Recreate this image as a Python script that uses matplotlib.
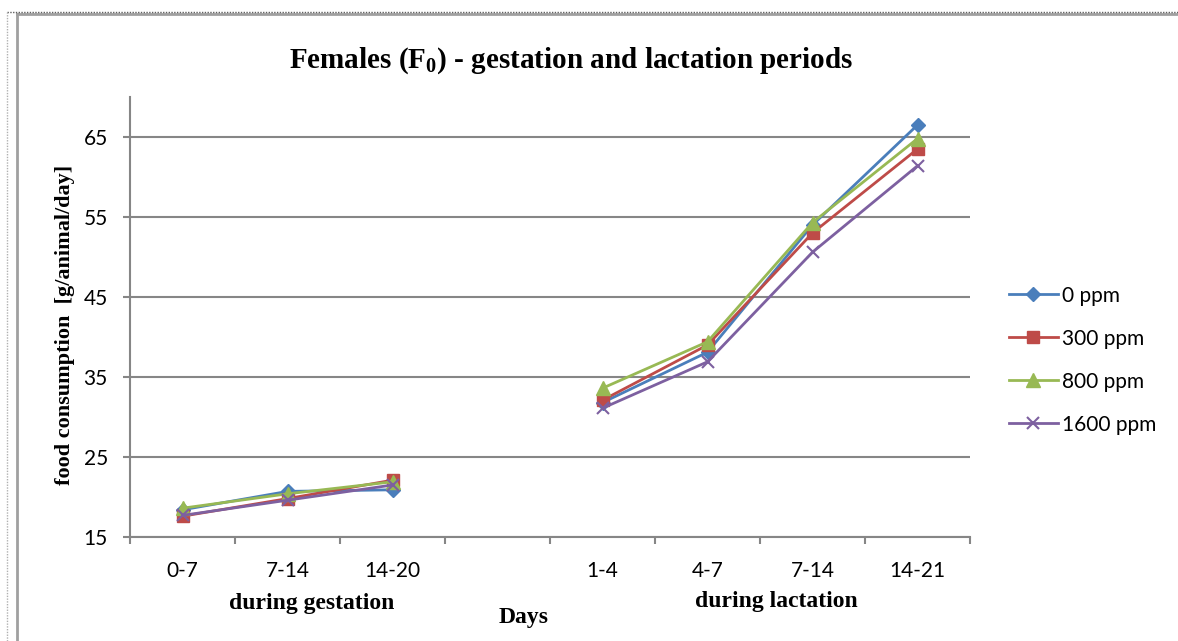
import numpy as np
import matplotlib.pyplot as plt
from matplotlib.lines import Line2D

# food consumption per period (g/animal/day); empty slot separates the two phases
periods = ["0-7", "7-14", "14-20", "", "1-4", "4-7", "7-14", "14-21"]
ppm_0 = [18.4, 20.7, 20.9, np.nan, 31.8, 38.1, 54.0, 66.5]
ppm_300 = [17.6, 19.8, 22.1, np.nan, 32.1, 39.0, 53.0, 63.5]
ppm_800 = [18.6, 20.4, 21.9, np.nan, 33.6, 39.4, 54.3, 64.8]
ppm_1600 = [17.7, 19.6, 21.5, np.nan, 31.1, 36.9, 50.6, 61.4]
series_names = ["0 ppm", "300 ppm", "800 ppm", "1600 ppm"]

plt.rcParams["mathtext.fontset"] = "custom"
plt.rcParams["mathtext.rm"] = "Liberation Serif"
plt.rcParams["mathtext.bf"] = "Liberation Serif:bold"

W, H = 1178, 641
fig = plt.figure(figsize=(W / 100, H / 100), dpi=100)
ax = fig.add_axes([130 / W, (H - 537) / H, 840 / W, (537 - 97) / H])

serif = "Liberation Serif"
sans = "Lato"
grey = "#868686"

styles = [
    dict(color="#4A7EBB", marker="D", ms=7.5),
    dict(color="#BE4B48", marker="s", ms=8.5),
    dict(color="#98B954", marker="^", ms=9.5),
    dict(color="#7D60A0", marker="x", ms=9, mew=1.5),
]
x = np.arange(len(periods))
for vals, name, st in zip([ppm_0, ppm_300, ppm_800, ppm_1600], series_names, styles):
    ax.plot(x, vals, lw=2, label=name, **st)

ax.set_xlim(-0.5, len(periods) - 0.5)
ax.set_ylim(15, 70)
ax.set_yticks([15, 25, 35, 45, 55, 65])
ax.yaxis.grid(True, color=grey, lw=1.5)
ax.set_axisbelow(True)

# category labels in the centre, tick marks at the boundaries
ax.set_xticks(x)
ax.set_xticklabels(periods, fontfamily=sans, fontsize=15)
ax.set_xticks(np.arange(-0.5, len(periods), 1), minor=True)
ax.tick_params(axis="x", which="major", length=0, pad=17)
ax.tick_params(axis="x", which="minor", length=5, width=1.5, color=grey, direction="out")
ax.tick_params(axis="y", length=5, width=1.5, color=grey, direction="out", pad=11)
for lab in ax.get_yticklabels():
    lab.set_fontfamily(sans)
    lab.set_fontsize(15)

for side in ["top", "right"]:
    ax.spines[side].set_visible(False)
for side in ["left", "bottom"]:
    ax.spines[side].set_color(grey)
    ax.spines[side].set_linewidth(1.5)

fig.text(571 / W, 1 - 61 / H, r"Females (F$_\mathbf{0}$) - gestation and lactation periods",
         ha="center", va="center", fontfamily=serif, fontweight="bold", fontsize=21)
fig.text(65 / W, 1 - 325 / H, "food consumption  [g/animal/day]", rotation=90,
         ha="center", va="center", fontfamily=serif, fontweight="bold", fontsize=16)
fig.text(312 / W, 1 - 603 / H, "during gestation", ha="center", va="center",
         fontfamily=serif, fontweight="bold", fontsize=17)
fig.text(776 / W, 1 - 602 / H, "during lactation", ha="center", va="center",
         fontfamily=serif, fontweight="bold", fontsize=17)
fig.text(524 / W, 1 - 618 / H, "Days", ha="center", va="center",
         fontfamily=serif, fontweight="bold", fontsize=17)

leg = fig.legend(loc="upper left", bbox_to_anchor=(990 / W, 1 - 267 / H), frameon=False,
                 prop={"family": sans, "size": 15}, handlelength=2.35, labelspacing=1.1,
                 handletextpad=0.2)

# chart frame
fig.add_artist(Line2D([17 / W, 1], [1 - 14 / H] * 2, color="#A0A0A0", lw=2))
fig.add_artist(Line2D([17 / W] * 2, [0, 1 - 14 / H], color="#A0A0A0", lw=2))
fig.add_artist(Line2D([7 / W, 1], [1 - 12 / H] * 2, color="#606060", lw=1, ls=(0, (1, 1))))
fig.add_artist(Line2D([7 / W] * 2, [0, 1 - 12 / H], color="#B0B0B0", lw=1, ls=(0, (1, 1))))

fig.savefig("out.png", dpi=100)
